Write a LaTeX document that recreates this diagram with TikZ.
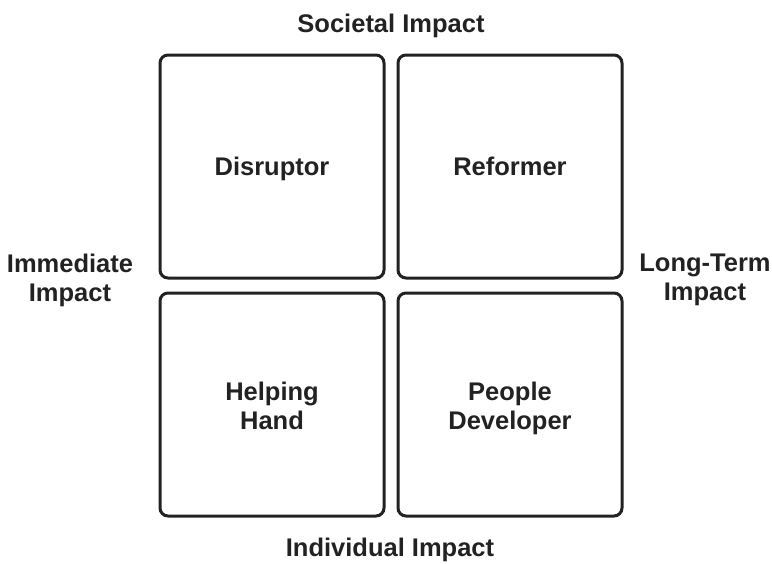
\documentclass[tikz,border=0pt]{standalone}
\usepackage{fontspec}
\setmainfont{Liberation Sans}
\definecolor{ink}{HTML}{222222}
\begin{document}
\begin{tikzpicture}[x=1pt,y=-1pt,
  quad/.style={draw=ink,line width=3pt,rounded corners=8pt,minimum width=224pt,minimum height=223pt,inner sep=0pt},
  lbl/.style={anchor=north,align=center,text=ink,inner sep=0pt,font=\bfseries\fontsize{25.5}{28.5}\selectfont}]
\useasboundingbox[fill=white] (0,0) rectangle (772,563);
\node[quad] (tl) at (272,166.5) {};
\node[quad] (tr) at (510,166.5) {};
\node[quad] (bl) at (272,404.5) {};
\node[quad] (br) at (510,404.5) {};
\node[lbl] (tlt) at (272,157) {Disruptor};
\node[lbl] (trt) at (510,157) {Reformer};
\node[lbl] (blt) at (272,382) {Helping\\Hand};
\node[lbl] (brt) at (510,382) {People\\Developer};
\node[lbl] (top) at (391,14) {Societal Impact};
\node[lbl] (bottom) at (390,538) {Individual Impact};
\node[lbl] (left) at (70,254) {Immediate\\Impact};
\node[lbl] (right) at (705,254) {Long-Term\\Impact};
\end{tikzpicture}
\end{document}
